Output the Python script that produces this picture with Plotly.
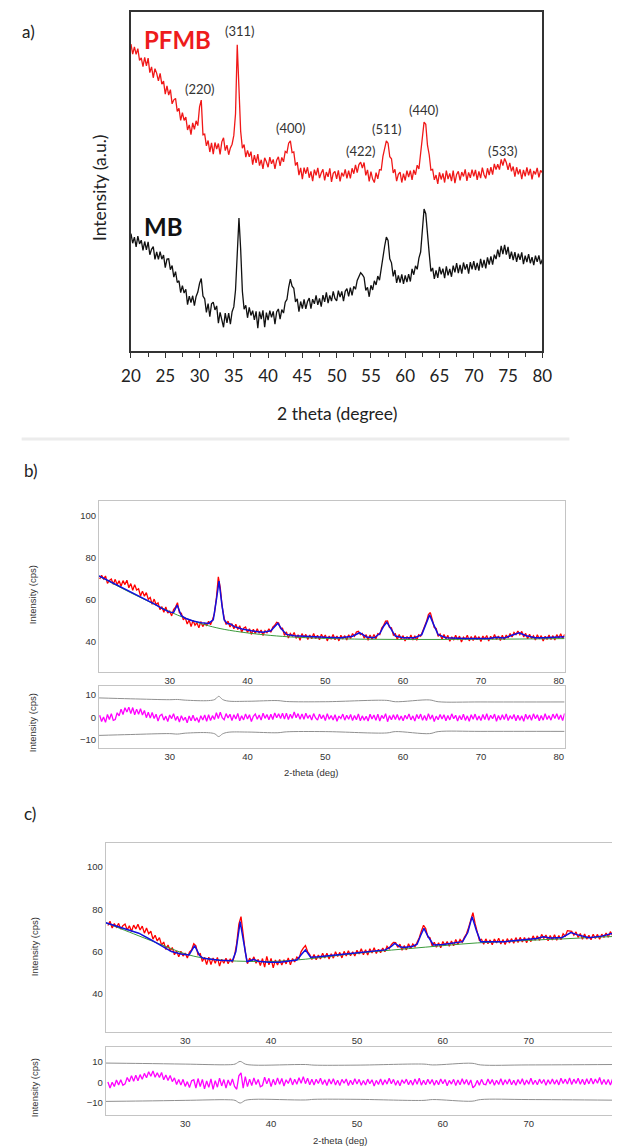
import numpy as np
import plotly.graph_objects as go

W, H = 622, 1146
def PX(x): return x / W
def PY(y): return 1 - y / H

# ---------------- Panel a data (arbitrary intensity, 0.25 deg grid 20..80) ----------------
a_theta = np.arange(20.0, 80.001, 0.25)
a_pfmb = [90.5, 87.6, 89.7, 87.5, 89.2, 85.7, 86.5, 83.9,
          86.6, 84.1, 86.4, 82.1, 83.8, 80.6, 83.3, 81.9,
          79.7, 81.9, 78.7, 79.6, 75.8, 78.2, 75.5, 77.1,
          72.9, 74.1, 74.5, 70.7, 71.6, 68.0, 70.3, 68.0,
          69.0, 65.2, 66.7, 63.8, 67.3, 65.4, 67.9, 66.5,
          72.0, 74.0, 63.8, 64.0, 60.5, 62.1, 58.7, 61.4,
          58.1, 61.5, 59.6, 61.2, 58.0, 61.7, 62.9, 59.1,
          60.7, 57.9, 59.9, 61.0, 63.6, 70.0, 90.3, 76.5,
          64.8, 59.8, 60.9, 57.2, 59.2, 57.3, 58.8, 55.0,
          57.8, 55.5, 58.1, 54.7, 56.4, 53.7, 57.0, 55.8,
          54.2, 57.2, 55.2, 56.5, 53.7, 56.3, 57.3, 54.6,
          57.1, 55.8, 58.9, 58.5, 61.3, 62.0, 58.5, 58.7,
          54.7, 55.7, 51.9, 54.0, 50.7, 54.1, 52.3, 54.2,
          51.1, 53.0, 50.1, 53.5, 51.8, 54.0, 51.0, 52.5,
          53.6, 50.3, 52.8, 51.4, 53.9, 49.9, 52.4, 53.0,
          50.8, 53.3, 50.0, 52.6, 51.5, 53.6, 50.9, 53.2,
          50.9, 53.9, 52.3, 54.9, 52.6, 55.0, 55.7, 54.0,
          55.6, 51.8, 53.4, 50.0, 52.9, 50.7, 49.7, 52.6,
          50.8, 53.5, 53.4, 57.4, 59.5, 62.0, 61.3, 57.3,
          56.7, 52.5, 53.6, 50.1, 52.1, 52.8, 49.7, 52.3,
          50.3, 53.2, 51.3, 53.2, 50.5, 53.4, 52.0, 54.8,
          53.7, 58.2, 62.6, 67.5, 66.9, 60.7, 57.9, 53.4,
          53.6, 50.5, 51.9, 49.3, 52.7, 50.6, 52.4, 49.7,
          53.2, 50.7, 52.4, 50.1, 53.2, 49.5, 52.1, 53.0,
          50.3, 52.8, 51.5, 53.6, 50.2, 52.7, 51.1, 53.5,
          51.5, 53.4, 50.5, 53.0, 51.0, 54.1, 52.0, 50.9,
          53.9, 51.9, 54.2, 52.0, 55.2, 53.5, 55.1, 53.5,
          56.5, 54.7, 56.8, 55.6, 53.4, 55.5, 53.0, 54.4,
          51.4, 54.2, 52.1, 53.6, 50.7, 53.4, 51.5, 54.2,
          51.8, 53.7, 50.6, 53.1, 52.1, 54.0, 51.2, 53.3,
          52.6]
a_mb = [34.6, 31.8, 33.6, 30.7, 33.9, 31.6, 32.7, 29.7,
        32.3, 29.8, 32.2, 28.4, 30.0, 30.8, 27.0, 29.2,
        27.0, 29.3, 27.1, 28.3, 24.6, 27.1, 27.2, 24.0,
        25.2, 21.8, 23.4, 20.2, 20.7, 17.2, 19.3, 17.1,
        18.2, 13.7, 16.2, 14.3, 16.3, 13.4, 16.1, 17.4,
        19.9, 21.4, 16.2, 15.4, 11.4, 14.0, 10.1, 13.9,
        14.4, 12.1, 13.3, 8.2, 11.4, 8.9, 7.0, 11.2,
        8.3, 11.2, 7.9, 11.6, 13.0, 18.0, 28.0, 39.2,
        30.0, 17.6, 12.3, 13.5, 9.8, 12.9, 10.5, 11.9,
        9.2, 11.7, 6.7, 11.6, 9.4, 12.0, 7.0, 11.3,
        9.1, 11.9, 9.9, 11.7, 7.9, 11.5, 12.4, 9.4,
        12.2, 11.2, 14.4, 15.2, 18.8, 21.2, 19.1, 18.5,
        14.5, 15.4, 11.6, 14.6, 12.5, 15.2, 12.4, 14.6,
        15.6, 12.5, 15.3, 13.9, 16.4, 13.6, 15.5, 13.1,
        16.5, 14.5, 17.3, 14.1, 16.4, 14.7, 17.6, 15.5,
        14.8, 17.8, 15.9, 17.6, 14.7, 17.6, 18.4, 16.1,
        18.7, 16.4, 19.1, 18.2, 20.8, 21.8, 23.1, 22.5,
        21.7, 17.9, 18.8, 16.0, 19.4, 18.0, 20.7, 19.5,
        22.1, 20.9, 24.5, 28.0, 30.9, 33.6, 32.6, 27.2,
        26.0, 22.0, 23.9, 20.1, 22.3, 20.2, 22.6, 19.8,
        22.3, 20.3, 22.7, 20.5, 24.2, 22.5, 25.1, 24.1,
        27.4, 29.2, 36.6, 41.9, 40.5, 33.4, 28.8, 23.5,
        24.5, 21.3, 23.8, 21.6, 24.8, 22.6, 24.3, 21.5,
        25.0, 22.3, 24.2, 21.9, 25.2, 23.2, 25.9, 23.0,
        25.4, 22.8, 26.1, 24.0, 25.6, 22.8, 26.2, 24.1,
        26.5, 23.9, 26.0, 23.7, 27.2, 24.6, 26.9, 24.4,
        27.6, 25.5, 27.9, 25.5, 28.4, 27.1, 29.9, 27.7,
        31.0, 28.6, 31.3, 28.4, 30.7, 27.2, 29.3, 26.8,
        29.2, 26.3, 28.7, 26.9, 29.1, 25.6, 28.1, 26.2,
        28.6, 25.9, 27.7, 25.3, 28.1, 26.3, 28.2, 25.6,
        27.0]
a_peak_labels = ["(220)", "(311)", "(400)", "(422)", "(511)", "(440)", "(533)"]
a_peak_x = [30.0, 35.95, 43.3, 53.6, 57.3, 62.8, 74.2]
a_peak_y = [77.3, 94.4, 65.8, 59.0, 65.5, 71.1, 59.0]

# ---------------- Panel b data (0.25 deg grid 21.0..80.75) ----------------
b_theta = np.arange(21.0, 80.76, 0.25)
b_obs = [70.0, 71.7, 70.0, 71.4, 67.9, 69.3, 70.0, 67.5,
         69.8, 67.3, 69.1, 66.5, 69.2, 67.3, 69.4, 65.8,
         67.8, 64.6, 67.3, 64.7, 65.3, 61.9, 64.2, 61.8,
         63.5, 60.3, 61.2, 57.9, 60.4, 57.8, 58.6, 55.4,
         56.8, 54.1, 56.7, 53.7, 54.7, 52.4, 55.4, 56.6,
         58.7, 53.9, 53.7, 50.5, 51.6, 48.5, 50.5, 47.3,
         50.3, 48.0, 49.1, 46.7, 49.7, 47.3, 48.9, 47.9,
         49.8, 48.2, 50.6, 53.5, 60.9, 71.0, 65.8, 56.7,
         51.3, 48.3, 49.9, 47.1, 48.7, 46.3, 48.4, 45.9,
         47.7, 44.7, 46.5, 47.1, 44.5, 46.3, 43.6, 46.1,
         44.0, 46.3, 44.2, 45.7, 43.1, 45.4, 44.4, 46.3,
         44.6, 47.1, 47.9, 49.4, 49.0, 46.4, 46.5, 43.1,
         44.8, 41.9, 44.0, 42.8, 44.5, 41.7, 43.4, 40.8,
         44.0, 42.1, 43.6, 41.2, 43.3, 41.5, 44.0, 41.6,
         43.2, 41.0, 43.7, 41.8, 43.3, 40.5, 42.8, 41.3,
         43.6, 41.1, 42.8, 40.5, 43.2, 41.6, 43.0, 40.9,
         43.4, 41.7, 44.0, 42.7, 44.7, 45.1, 43.5, 44.1,
         41.8, 43.5, 40.8, 43.3, 41.3, 43.6, 41.5, 44.0,
         43.5, 46.6, 47.9, 49.9, 50.0, 46.9, 46.7, 43.2,
         43.9, 41.2, 43.6, 41.3, 43.0, 40.4, 42.6, 41.1,
         43.3, 40.9, 42.9, 40.8, 43.4, 42.7, 45.0, 47.1,
         49.7, 53.0, 54.0, 50.6, 46.9, 46.4, 42.7, 43.8,
         41.3, 43.5, 41.5, 43.1, 40.3, 42.5, 40.9, 43.2,
         41.0, 42.8, 40.0, 42.3, 41.3, 43.2, 40.5, 42.6,
         40.7, 43.0, 41.1, 42.5, 40.2, 42.8, 41.4, 43.1,
         40.4, 42.7, 41.3, 43.6, 41.2, 42.8, 40.7, 43.2,
         41.0, 43.3, 41.9, 44.0, 42.4, 44.5, 43.5, 45.2,
         43.5, 45.0, 42.4, 44.1, 41.5, 43.7, 41.6, 42.9,
         40.9, 43.4, 41.5, 43.0, 40.4, 42.7, 41.2, 43.3,
         41.2, 43.0, 40.9, 43.5, 41.8, 43.9, 41.6, 43.6]
b_fit_x = [20.92, 22, 23, 24, 25, 26, 27, 28, 29, 30, 30.5, 30.96, 31.5, 32, 33, 34, 35,
           35.6, 36.0, 36.34, 36.7, 37.0, 37.4, 37.8, 38.3, 39.3, 40.5, 42.0, 43.0, 43.5,
           43.9, 44.4, 45.0, 46, 48, 50, 52, 53.5, 54.4, 55.3, 56.3, 57.0, 57.5, 57.9,
           58.4, 59.0, 60, 61.5, 62.4, 63.0, 63.4, 63.9, 64.5, 65.5, 68, 71, 72, 73,
           74.2, 74.9, 75.8, 77, 78, 80.75]
b_fit_y = [71.4, 69.4, 67.4, 65.5, 63.7, 61.9, 60.0, 58.1, 56.0, 54.2, 54.0, 57.5, 52.5, 51.3,
           50.0, 49.2, 48.8, 50.5, 60.0, 69.0, 58.0, 50.5, 48.8, 48.6, 47.3, 46.2, 45.3, 44.6,
           45.3, 47.3, 48.9, 46.0, 43.6, 43.0, 42.5, 42.2, 42.0, 42.7, 44.4, 42.4, 42.0, 44.0,
           47.5, 49.4, 46.5, 42.8, 42.0, 42.0, 43.5, 49.0, 52.9, 48.5, 43.5, 42.0, 41.7, 41.7,
           42.2, 41.9, 43.3, 44.4, 43.0, 42.0, 42.0, 42.5]
b_bg_x = [20.92, 23, 25, 27, 29, 31, 33, 35, 37, 40, 43, 46, 50, 55, 60, 65, 70, 75, 80.75]
b_bg_y = [71.4, 67.2, 63.4, 59.8, 56.2, 52.8, 50.0, 47.7, 46.0, 44.3, 43.1, 42.3, 41.7,
          41.3, 41.2, 41.2, 41.3, 41.4, 41.6]
b_diff = [1.0, -1.8, 0.2, -2.2, 1.3, -0.9, 1.7, -1.3,
          -0.9, 2.1, 0.7, 3.7, 1.3, 4.3, 2.4, 4.6,
          1.7, 4.4, 1.2, 3.7, 1.4, 3.9, 1.1, 3.1,
          -0.1, 2.3, -0.3, 2.2, -0.5, 1.4, -1.6, 0.8,
          1.4, -1.2, 0.6, -1.8, 1.1, -0.5, 1.7, -1.3,
          0.5, -2.0, 0.8, -1.3, 0.1, -2.4, 0.7, -1.5,
          1.0, -1.5, -0.1, -2.2, 0.8, -1.1, 1.1, -1.7,
          1.2, -1.4, 0.8, -0.9, 2.1, -0.5, 2.3, -0.1,
          -1.0, 1.7, -0.2, 1.4, -1.4, 1.2, -0.7, 1.8,
          -1.5, 0.8, -1.1, 1.6, -0.7, 1.2, -1.8, 0.5,
          1.5, -0.8, 1.1, -1.2, 1.9, -0.4, 1.3, -1.0,
          1.4, -0.9, 2.0, -0.1, 1.6, -0.5, 1.9, -0.7,
          1.9, -0.9, 1.4, -0.4, 2.4, -0.1, 1.7, -0.8,
          1.6, -0.8, 1.9, -0.4, 1.1, -1.2, 1.7, -0.2,
          -1.2, 1.5, -0.6, 1.1, -1.4, 1.7, -0.8, 0.9,
          -1.1, 1.2, -1.7, 0.6, -0.5, 1.5, -1.2, 1.0,
          -0.8, 1.3, -1.4, 0.9, -1.0, 1.6, -1.5, 0.7,
          -1.2, 0.5, -1.6, 1.4, -0.7, 1.1, -1.3, 1.5,
          -1.6, 0.9, -0.5, 1.7, -1.9, 0.8, -1.0, 1.2,
          -0.9, 1.3, -1.2, 0.6, -1.5, 1.0, -0.7, 1.6,
          -1.1, 0.7, -1.6, 1.3, -0.6, 1.5, -1.3, 0.9,
          -1.4, 1.7, -0.8, 1.1, -1.8, 0.6, -1.0, 1.3,
          -0.7, 1.2, -1.5, 0.9, -1.1, 1.6, -0.6, 1.0,
          -1.6, 0.8, -1.0, 1.4, -1.3, 0.7, -1.7, 1.2,
          -0.8, 1.5, -1.2, 0.6, -1.4, 1.3, -0.9, 1.7,
          -1.3, 1.0, -0.6, 1.5, -1.7, 0.9, -1.1, 1.2,
          -0.9, 1.6, -1.4, 0.8, -0.7, 1.3, -1.5, 1.0,
          -1.2, 0.7, -1.7, 1.4, -0.8, 1.1, -1.3, 1.6,
          -0.6, 1.2, -1.5, 0.9, -1.2, 1.7, -0.9, 0.8,
          -1.2, 1.5, -0.5, 1.7, -0.9, 1.1, -1.4, 1.8]
b_env_x = [20.92, 25, 30, 31, 32, 35, 35.8, 36.3, 36.8, 37.5, 40, 43.9, 45, 50, 57.9, 59,
           63.4, 64.5, 70, 80.75]
b_env_hi = [8.7, 8.3, 7.9, 8.0, 7.7, 7.5, 8.0, 9.4, 8.0, 7.3, 7.2, 7.5, 7.1, 7.0, 7.6, 7.0,
            7.8, 7.0, 6.9, 6.9]
b_env_lo = [-8.0, -7.6, -7.2, -7.4, -7.0, -6.8, -7.3, -8.5, -7.3, -6.6, -6.5, -6.8, -6.4,
            -6.3, -6.9, -6.3, -7.2, -6.3, -6.2, -6.2]

# ---------------- Panel c data (0.25 deg grid 21.0..80.75) ----------------
c_theta = np.arange(21.0, 80.76, 0.25)
c_obs = [72.3, 74.3, 71.1, 73.2, 71.5, 73.3, 70.6, 72.2,
         73.0, 70.2, 72.2, 69.5, 72.5, 70.7, 72.9, 70.2,
         72.0, 68.7, 71.1, 68.4, 69.6, 65.9, 67.7, 65.0,
         66.6, 63.1, 64.5, 61.0, 63.1, 60.3, 61.9, 58.5,
         60.3, 57.5, 60.2, 57.9, 59.3, 57.0, 59.8, 60.8,
         63.7, 62.7, 58.5, 59.0, 55.3, 57.3, 53.9, 57.4,
         53.9, 57.0, 54.5, 57.2, 53.1, 56.4, 54.5, 56.9,
         54.2, 56.6, 54.9, 58.2, 64.0, 73.0, 76.5, 66.5,
         59.8, 54.3, 56.9, 55.4, 57.5, 54.5, 56.3, 53.4,
         56.7, 52.7, 57.7, 53.7, 56.8, 52.3, 56.0, 53.6,
         56.3, 53.6, 56.1, 54.2, 57.0, 53.7, 56.7, 55.1,
         57.4, 56.6, 60.0, 61.6, 62.8, 60.0, 58.6, 56.3,
         58.6, 56.1, 58.4, 56.5, 59.2, 57.0, 59.2, 56.5,
         59.0, 56.9, 59.9, 57.7, 59.6, 57.0, 60.1, 57.9,
         60.4, 58.0, 59.9, 57.9, 60.6, 58.9, 61.3, 58.5,
         60.9, 58.4, 61.3, 59.3, 61.8, 59.1, 61.1, 59.5,
         61.7, 59.9, 62.5, 61.3, 63.3, 64.3, 64.2, 62.0,
         63.5, 60.6, 62.8, 60.8, 63.7, 61.4, 63.6, 62.3,
         64.3, 66.5, 69.7, 72.4, 70.9, 66.9, 66.5, 62.7,
         64.4, 62.0, 64.2, 61.8, 64.8, 62.8, 64.8, 62.5,
         65.0, 62.7, 65.7, 63.4, 65.7, 64.4, 66.7, 68.4,
         71.4, 75.5, 78.4, 73.3, 69.5, 65.3, 65.8, 63.5,
         66.0, 63.7, 65.5, 63.2, 65.9, 64.1, 66.3, 63.6,
         65.7, 63.3, 66.1, 64.1, 66.1, 63.9, 66.6, 64.3,
         66.7, 64.5, 66.6, 64.2, 66.5, 64.7, 67.4, 65.4,
         67.4, 65.3, 68.1, 66.3, 67.8, 65.1, 67.6, 65.5,
         67.9, 65.4, 67.6, 65.6, 68.4, 67.3, 69.9, 69.6,
         69.6, 67.7, 69.3, 66.7, 68.5, 65.8, 68.3, 65.9,
         67.7, 65.6, 68.2, 66.2, 68.1, 65.8, 68.2, 66.7,
         68.8, 66.8, 69.4, 67.6, 69.6, 68.0, 69.9, 68.9]
c_fit_x = [20.76, 22, 23, 24, 24.6, 26, 27, 28.4, 29.5, 30.45, 31.1, 31.7, 32.1, 33, 34,
           35.5, 35.9, 36.4, 36.9, 37.2, 37.6, 38.0, 38.5, 39.7, 41, 42, 43, 43.6, 44.0,
           44.6, 45.5, 48.4, 51, 53.3, 54.0, 54.4, 55.0, 55.5, 56.5, 57.0, 57.4, 57.8,
           58.3, 58.9, 60, 62.3, 62.9, 63.4, 63.9, 64.4, 67.2, 70.0, 70.9, 71.7, 72.5,
           73.9, 74.5, 74.9, 75.6, 77.0, 78.5, 79.69]
c_fit_y = [73.6, 72.0, 70.5, 69.3, 68.7, 65.6, 63.3, 60.0, 58.9, 58.4, 62.8, 58.0, 56.8,
           56.3, 55.9, 55.7, 60.0, 74.2, 62.0, 55.2, 55.8, 56.3, 55.4, 54.9, 55.0, 55.4,
           56.0, 59.0, 60.8, 57.3, 57.5, 58.7, 59.8, 60.8, 62.5, 63.9, 62.3, 61.9, 62.5,
           63.5, 67.5, 71.0, 67.0, 63.1, 63.4, 64.7, 69.0, 76.5, 70.0, 64.7, 64.7, 65.6,
           66.2, 67.0, 66.4, 66.7, 68.3, 69.0, 68.0, 66.5, 67.3, 68.6]
c_bg_x = [20.76, 22, 24, 26, 28, 30, 32, 34, 36, 38, 40, 42, 44, 46, 48, 50, 52, 54, 56,
          58, 60, 62, 64, 66, 68, 70, 72, 74, 76, 78, 79.69]
c_bg_y = [73.6, 71.6, 68.4, 65.2, 62.0, 58.9, 57.0, 56.0, 55.5, 55.3, 55.3, 55.7, 56.4,
          57.3, 58.3, 59.2, 60.0, 60.7, 61.4, 62.1, 62.8, 63.5, 64.1, 64.5, 64.9, 65.3,
          65.7, 66.0, 66.4, 66.8, 67.1]
c_diff = [0.2, -2.7, 0.1, -2.0, 1.2, -1.2, 1.3, -1.4,
          -0.7, 2.4, 0.3, 3.3, 0.6, 3.5, 0.8, 3.8,
          1.5, 4.4, 2.3, 5.2, 3.0, 5.6, 2.5, 4.7,
          2.4, 4.8, 1.3, 3.6, 0.9, 3.4, 0.4, 2.2,
          -1.0, 1.4, -1.3, 1.5, -1.9, 0.4, -2.5, 0.8,
          1.3, -2.7, 1.9, -2.0, 1.5, -3.1, 0.7, -2.4,
          1.7, -3.4, 0.9, -2.3, 2.1, -1.7, 1.4, -2.8,
          1.2, -1.5, 1.7, -1.9, -3.3, 3.2, 4.7, -2.8,
          2.8, -2.0, 1.6, -1.5, 2.2, -1.0, 1.4, -2.1,
          -1.5, 2.6, -0.7, 2.0, -2.0, 1.5, -1.2, 2.2,
          -0.9, 1.9, -1.7, 1.3, -0.5, 2.2, -1.2, 1.5,
          -0.9, 2.3, -0.4, 2.8, -0.6, 2.0, -1.1, 1.5,
          -1.2, 1.5, -0.5, 2.0, -1.0, 1.3, -1.5, 1.7,
          -0.8, 1.8, -1.2, 1.1, -1.5, 1.5, -0.4, 1.7,
          -1.5, 1.1, -1.1, 1.8, -0.8, 1.5, -1.4, 0.9,
          -1.2, 1.6, -0.6, 1.3, -1.7, 1.0, -1.0, 1.7,
          -1.2, 1.3, -0.8, 2.0, -0.6, 1.5, -1.4, 0.9,
          -1.6, 1.3, -0.5, 1.6, -1.1, 1.1, -1.3, 1.7,
          -0.9, 2.1, -1.3, 1.0, -1.1, 1.6, -0.7, 1.4,
          -1.4, 1.1, -1.1, 1.7, -0.6, 1.4, -1.6, 1.0,
          -0.8, 1.5, -1.5, 1.2, -1.1, 1.8, -0.9, 1.4,
          -1.3, 1.2, -2.6, -1.5, 1.0, -1.4, 1.5, -0.8,
          -1.1, 1.7, -0.7, 1.4, -1.4, 1.1, -1.0, 1.8,
          -1.2, 1.3, -0.8, 1.7, -1.1, 1.0, -1.4, 1.4,
          -0.7, 1.8, -1.3, 1.2, -0.9, 2.0, -1.0, 1.1,
          -1.1, 1.6, -0.5, 1.4, -1.4, 1.3, -0.8, 1.7,
          -0.9, 1.3, -1.2, 2.0, -0.5, 1.6, -0.8, 2.2,
          -1.0, 1.6, -0.5, 2.0, -0.9, 1.5, -1.1, 1.8,
          -0.7, 2.1, -0.8, 1.7, -0.4, 2.4, -1.0, 1.4,
          -1.0, 1.4, -1.3, 1.7, -0.6, 1.5, -0.7, 1.6]
c_env_x = [20.76, 25, 30, 35, 35.8, 36.4, 37.0, 38, 44, 45, 50, 57.8, 58.8, 63.4, 64.4, 70, 79.69]
c_env_hi = [9.4, 9.2, 8.9, 8.6, 8.9, 10.2, 8.9, 8.4, 8.7, 8.4, 8.4, 8.9, 8.5, 9.3, 8.5, 8.5, 8.7]
c_env_lo = [-9.2, -9.0, -8.7, -8.4, -8.7, -10.0, -8.7, -8.2, -8.5, -8.2, -8.2, -8.7, -8.3,
            -9.1, -8.3, -8.3, -8.6]

fig = go.Figure()

# panel a
fig.add_trace(go.Scatter(x=a_theta, y=a_pfmb, mode="lines", line=dict(color="#f01818", width=1.3),
                         xaxis="x", yaxis="y"))
fig.add_trace(go.Scatter(x=a_theta, y=a_mb, mode="lines", line=dict(color="#111111", width=1.3),
                         xaxis="x", yaxis="y"))

# panel b
fig.add_trace(go.Scatter(x=b_theta, y=b_obs, mode="lines", line=dict(color="#ff0000", width=1.3),
                         xaxis="x2", yaxis="y2"))
fig.add_trace(go.Scatter(x=b_bg_x, y=b_bg_y, mode="lines", line=dict(color="#3a9a3a", width=1, shape="spline"),
                         xaxis="x2", yaxis="y2"))
fig.add_trace(go.Scatter(x=b_fit_x, y=b_fit_y, mode="lines", line=dict(color="#1010e0", width=1.5),
                         xaxis="x2", yaxis="y2"))
fig.add_trace(go.Scatter(x=b_env_x, y=b_env_hi, mode="lines", line=dict(color="#909090", width=1, shape="spline"),
                         xaxis="x3", yaxis="y3"))
fig.add_trace(go.Scatter(x=b_env_x, y=b_env_lo, mode="lines", line=dict(color="#909090", width=1, shape="spline"),
                         xaxis="x3", yaxis="y3"))
fig.add_trace(go.Scatter(x=b_theta, y=b_diff, mode="lines", line=dict(color="#ff00ff", width=1.3),
                         xaxis="x3", yaxis="y3"))

# panel c
fig.add_trace(go.Scatter(x=c_theta, y=c_obs, mode="lines", line=dict(color="#ff0000", width=1.3),
                         xaxis="x4", yaxis="y4"))
fig.add_trace(go.Scatter(x=c_bg_x, y=c_bg_y, mode="lines", line=dict(color="#3a9a3a", width=1, shape="spline"),
                         xaxis="x4", yaxis="y4"))
fig.add_trace(go.Scatter(x=c_fit_x, y=c_fit_y, mode="lines", line=dict(color="#1010e0", width=1.5),
                         xaxis="x4", yaxis="y4"))
fig.add_trace(go.Scatter(x=c_env_x, y=c_env_hi, mode="lines", line=dict(color="#909090", width=1, shape="spline"),
                         xaxis="x5", yaxis="y5"))
fig.add_trace(go.Scatter(x=c_env_x, y=c_env_lo, mode="lines", line=dict(color="#909090", width=1, shape="spline"),
                         xaxis="x5", yaxis="y5"))
fig.add_trace(go.Scatter(x=c_theta, y=c_diff, mode="lines", line=dict(color="#ff00ff", width=1.3),
                         xaxis="x5", yaxis="y5"))

small_font = dict(family="Liberation Sans, Arial", size=9.5, color="#333333")
box_col = "#c4c4c4"

def sub_x(dom, rng, anchor, dtick):
    return dict(domain=dom, range=rng, anchor=anchor, showline=True, mirror=True, linecolor=box_col,
                linewidth=1, ticks="", showgrid=False, zeroline=False, dtick=dtick, tick0=0,
                tickfont=small_font)

def sub_y(dom, rng, anchor, tickvals, mirror=True):
    return dict(domain=dom, range=rng, anchor=anchor, showline=True, mirror=mirror, linecolor=box_col,
                linewidth=1, ticks="", showgrid=False, zeroline=False, tickvals=tickvals,
                tickfont=small_font)

bx = [PX(92), PX(573)]
cx = [PX(99), 1.0]

fig.update_layout(
    width=W, height=H, autosize=False,
    margin=dict(l=0, r=0, t=0, b=0),
    paper_bgcolor="white", plot_bgcolor="white",
    showlegend=False,
    xaxis=dict(domain=[PX(125), PX(550)], range=[20, 80], anchor="y", showline=True, mirror=True,
               linecolor="#333333", linewidth=1.5, ticks="outside", ticklen=5, tickcolor="#333333",
               tickwidth=1.2, dtick=5, tick0=0, showgrid=False, zeroline=False, ticklabelstandoff=4,
               tickfont=dict(family="Lato, Open Sans", size=17, color="#222222"),
               minor=dict(dtick=2.5, ticks="outside", ticklen=4, tickcolor="#333333", tickwidth=1.2,
                          showgrid=False)),
    yaxis=dict(domain=[PY(351), PY(12)], range=[0, 100], anchor="x", showline=True, mirror=True,
               linecolor="#333333", linewidth=1.5, ticks="", showticklabels=False, showgrid=False,
               zeroline=False),
    xaxis2=sub_x(bx, [20.92, 80.75], "y2", 10),
    yaxis2=sub_y([PY(672), PY(501)], [25.7, 107.1], "x2", [40, 60, 80, 100]),
    xaxis3=sub_x(bx, [20.92, 80.75], "y3", 10),
    yaxis3=sub_y([PY(748), PY(686)], [-13.6, 14.0], "x3", [-10, 0, 10]),
    xaxis4=sub_x(cx, [20.76, 79.69], "y4", 10),
    yaxis4=sub_y([PY(1032), PY(843)], [22.0, 111.3], "x4", [40, 60, 80, 100], mirror=False),
    xaxis5=sub_x(cx, [20.76, 79.69], "y5", 10),
    yaxis5=sub_y([PY(1115), PY(1047)], [-15.8, 17.2], "x5", [-10, 0, 10], mirror=False),
)

ann = []
def A(text, x, y, size, color="#222222", family="Lato, Open Sans", angle=0, xanchor="center",
      bold=False):
    ann.append(dict(text=("<b>%s</b>" % text) if bold else text, x=PX(x), y=PY(y), xref="paper",
                    yref="paper", showarrow=False, xanchor=xanchor, yanchor="middle", textangle=angle,
                    font=dict(family=family, size=size, color=color)))

A("a)", 10, 32, 17, xanchor="left")
A("b)", 12, 470, 17, xanchor="left")
A("c)", 12, 813, 17, xanchor="left")
A("2 theta (degree)", 338, 413, 17.5)
A("Intensity (a.u.)", 92, 188, 17.5, angle=-90)
A("PFMB", 136, 39, 24, color="#ee1c1c", xanchor="left", bold=True)
A("MB", 136, 226, 24, color="#111111", xanchor="left", bold=True)

sf = "Liberation Sans, Arial"
A("Intensity (cps)", 23, 595, 9.5, color="#333333", family=sf, angle=-90)
A("Intensity (cps)", 23, 723, 9.5, color="#333333", family=sf, angle=-90)
A("2-theta (deg)", 311, 772, 9.5, color="#333333", family=sf)
A("Intensity (cps)", 25, 947, 9.5, color="#333333", family=sf, angle=-90)
A("Intensity (cps)", 25, 1088, 9.5, color="#333333", family=sf, angle=-90)
A("2-theta (deg)", 341, 1140, 9.5, color="#333333", family=sf)

for t, x, y in zip(a_peak_labels, a_peak_x, a_peak_y):
    ann.append(dict(text=t, x=x, y=y, xref="x", yref="y", showarrow=False, xanchor="center",
                    yanchor="middle", font=dict(family="Lato, Open Sans", size=13, color="#333333")))

fig.update_layout(annotations=ann)

fig.add_shape(type="line", xref="paper", yref="paper", x0=PX(12), x1=PX(578), y0=PY(439), y1=PY(439),
              line=dict(color="#ececec", width=3))

fig.write_html("out.html",
               post_script="document.body.style.margin='0';document.body.style.overflow='hidden';")
